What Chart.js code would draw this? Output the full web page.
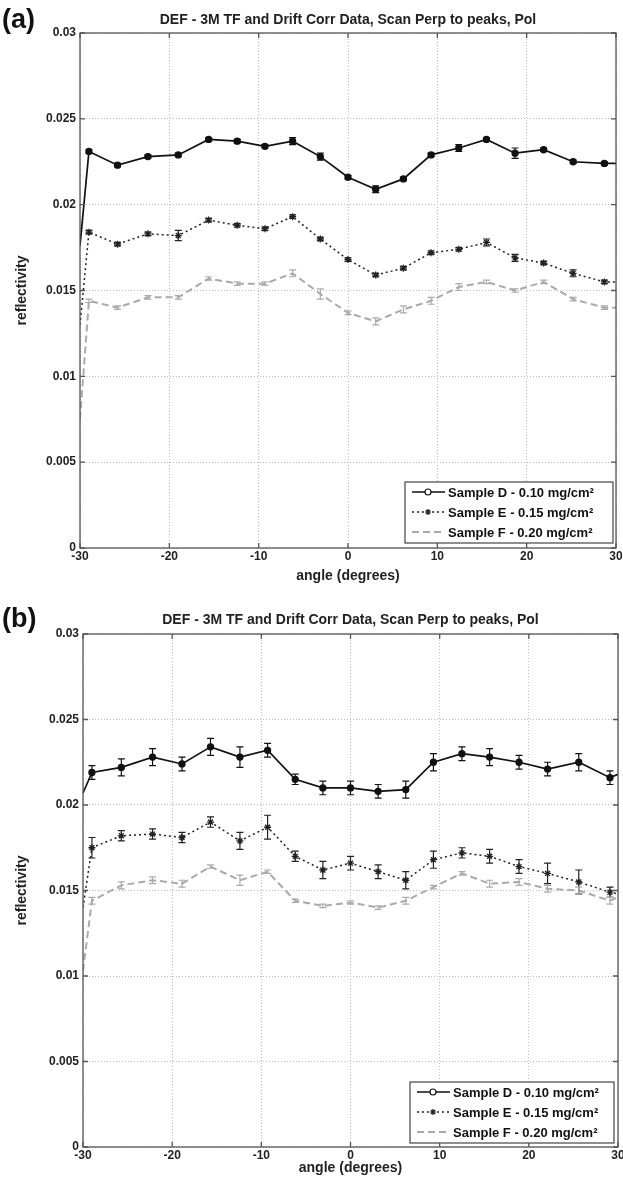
<!DOCTYPE html>
<html>
<head>
<meta charset="utf-8">
<script src="https://cdn.jsdelivr.net/npm/chart.js@4.4.1/dist/chart.umd.min.js"></script>
<style>
  body { margin: 0; background: #fff; width: 623px; height: 1184px; overflow: hidden; }
  .panel { position: absolute; left: 0; width: 623px; height: 592px; }
</style>
</head>
<body>
<div class="panel" style="top:0"><canvas id="graficoA" width="623" height="592"></canvas></div>
<div class="panel" style="top:592px"><canvas id="graficoB" width="623" height="592"></canvas></div>
<script>
// ---- datos ----
const titulo = 'DEF - 3M TF and Drift Corr Data, Scan Perp to peaks, Pol';
const etiquetas = ['Sample D - 0.10 mg/cm²', 'Sample E - 0.15 mg/cm²', 'Sample F - 0.20 mg/cm²'];
const xTicks = [-30, -20, -10, 0, 10, 20, 30];
const xTickLabels = ['-30', '-20', '-10', '0', '10', '20', '30'];
const yTicks = [0, 0.005, 0.01, 0.015, 0.02, 0.025, 0.03];
const yTickLabels = ['0', '0.005', '0.01', '0.015', '0.02', '0.025', '0.03'];

// panel (a)
const anguloA = [-30, -29, -25.8, -22.4, -19, -15.6, -12.4, -9.3, -6.2, -3.1, 0, 3.1, 6.2, 9.3, 12.4, 15.5, 18.7, 21.9, 25.2, 28.7, 30];
const muestraDA = [0.0176, 0.0231, 0.0223, 0.0228, 0.0229, 0.0238, 0.0237, 0.0234, 0.0237, 0.0228, 0.0216, 0.0209, 0.0215, 0.0229, 0.0233, 0.0238, 0.0230, 0.0232, 0.0225, 0.0224, 0.0224];
const muestraEA = [0.0130, 0.0184, 0.0177, 0.0183, 0.0182, 0.0191, 0.0188, 0.0186, 0.0193, 0.0180, 0.0168, 0.0159, 0.0163, 0.0172, 0.0174, 0.0178, 0.0169, 0.0166, 0.0160, 0.0155, 0.0155];
const muestraFA = [0.0075, 0.0144, 0.0140, 0.0146, 0.0146, 0.0157, 0.0154, 0.0154, 0.0160, 0.0148, 0.0137, 0.0132, 0.0139, 0.0144, 0.0152, 0.0155, 0.0150, 0.0155, 0.0145, 0.0140, 0.0140];
const errorDA = [null, 0.0001, 0.0001, 0.0001, 0.0001, 0.0001, 0.0001, 0.0001, 0.0002, 0.0002, 0.0001, 0.0002, 0.0001, 0.0001, 0.0002, 0.0001, 0.0003, 0.0001, 0.0001, 0.0001, null];
const errorEA = [null, 0.0001, 0.0001, 0.0001, 0.0003, 0.0001, 0.0001, 0.0001, 0.0001, 0.0001, 0.0001, 0.0001, 0.0001, 0.0001, 0.0001, 0.0002, 0.0002, 0.0001, 0.0002, 0.0001, null];
const errorFA = [null, 0.0001, 0.0001, 0.0001, 0.0001, 0.0001, 0.0001, 0.0001, 0.0002, 0.0003, 0.0001, 0.0002, 0.0002, 0.0002, 0.0002, 0.0001, 0.0001, 0.0001, 0.0001, 0.0001, null];

// panel (b)
const anguloB = [-30, -29, -25.7, -22.2, -18.9, -15.7, -12.4, -9.3, -6.2, -3.1, 0, 3.1, 6.2, 9.3, 12.5, 15.6, 18.9, 22.1, 25.6, 29.1, 30];
const muestraDB = [0.0207, 0.0219, 0.0222, 0.0228, 0.0224, 0.0234, 0.0228, 0.0232, 0.0215, 0.0210, 0.0210, 0.0208, 0.0209, 0.0225, 0.0230, 0.0228, 0.0225, 0.0221, 0.0225, 0.0216, 0.0218];
const muestraEB = [0.0140, 0.0175, 0.0182, 0.0183, 0.0181, 0.0190, 0.0179, 0.0187, 0.0170, 0.0162, 0.0166, 0.0161, 0.0156, 0.0168, 0.0172, 0.0170, 0.0164, 0.0160, 0.0155, 0.0149, 0.0148];
const muestraFB = [0.0103, 0.0144, 0.0153, 0.0156, 0.0154, 0.0164, 0.0156, 0.0161, 0.0144, 0.0141, 0.0143, 0.0140, 0.0144, 0.0152, 0.0160, 0.0154, 0.0155, 0.0151, 0.0150, 0.0144, 0.0146];
const errorDB = [null, 0.0004, 0.0005, 0.0005, 0.0004, 0.0005, 0.0006, 0.0004, 0.0003, 0.0004, 0.0004, 0.0004, 0.0005, 0.0005, 0.0004, 0.0005, 0.0004, 0.0004, 0.0005, 0.0004, null];
const errorEB = [null, 0.0006, 0.0003, 0.0003, 0.0003, 0.0003, 0.0005, 0.0007, 0.0003, 0.0005, 0.0004, 0.0004, 0.0005, 0.0005, 0.0003, 0.0004, 0.0004, 0.0006, 0.0007, 0.0003, null];
const errorFB = [null, 0.0002, 0.0002, 0.0002, 0.0002, 0.0001, 0.0003, 0.0001, 0.0001, 0.0001, 0.0001, 0.0001, 0.0002, 0.0001, 0.0001, 0.0002, 0.0002, 0.0002, 0.0002, 0.0002, null];

// ---- estilos ----
const fuente = '"Liberation Sans", Arial, sans-serif';
Chart.defaults.font.family = fuente;
const estilos = [
  { color: '#111', dash: [], ancho: 1.7, punto: 'circle', radio: 3 },
  { color: '#222', dash: [2, 3], ancho: 1.5, punto: 'star', radio: 3.5 },
  { color: '#aaa', dash: [7, 4], ancho: 2, punto: false, radio: 0 }
];

function puntos(xs, ys) {
  return xs.map((x, i) => ({ x: x, y: ys[i] }));
}

// barras de error dibujadas con la escala y del grafico
const barrasError = {
  id: 'barrasError',
  afterDatasetsDraw(chart) {
    const ctx = chart.ctx;
    const escalaY = chart.scales.y;
    chart.data.datasets.forEach((ds, i) => {
      const meta = chart.getDatasetMeta(i);
      ctx.save();
      ctx.strokeStyle = ds.borderColor;
      ctx.lineWidth = 1.2;
      ctx.setLineDash([]);
      ctx.beginPath();
      ds.errores.forEach((e, j) => {
        if (e == null) return;
        const px = meta.data[j].x;
        const v = ds.data[j].y;
        const y1 = escalaY.getPixelForValue(v - e);
        const y2 = escalaY.getPixelForValue(v + e);
        ctx.moveTo(px, y1); ctx.lineTo(px, y2);
        ctx.moveTo(px - 3.5, y1); ctx.lineTo(px + 3.5, y1);
        ctx.moveTo(px - 3.5, y2); ctx.lineTo(px + 3.5, y2);
      });
      ctx.stroke();
      ctx.restore();
    });
  }
};

// caja de ejes estilo matlab con marcas hacia dentro
const marco = {
  id: 'marco',
  afterDraw(chart) {
    const { ctx, chartArea: a, scales } = chart;
    ctx.save();
    ctx.strokeStyle = '#555';
    ctx.lineWidth = 1.3;
    ctx.setLineDash([]);
    ctx.strokeRect(a.left, a.top, a.right - a.left, a.bottom - a.top);
    ctx.beginPath();
    xTicks.forEach(t => {
      const px = scales.x.getPixelForValue(t);
      ctx.moveTo(px, a.bottom); ctx.lineTo(px, a.bottom - 5);
      ctx.moveTo(px, a.top); ctx.lineTo(px, a.top + 5);
    });
    yTicks.forEach(t => {
      const py = scales.y.getPixelForValue(t);
      ctx.moveTo(a.left, py); ctx.lineTo(a.left + 5, py);
      ctx.moveTo(a.right, py); ctx.lineTo(a.right - 5, py);
    });
    ctx.stroke();
    ctx.restore();
  }
};

const leyenda = {
  id: 'leyenda',
  afterDraw(chart, args, o) {
    const { ctx, chartArea: a } = chart;
    const der = a.right - o.margenDer;
    const inf = a.bottom - o.margenInf;
    const izq = der - o.ancho;
    const sup = inf - o.alto;
    ctx.save();
    ctx.fillStyle = '#fff';
    ctx.fillRect(izq, sup, o.ancho, o.alto);
    ctx.strokeStyle = '#444';
    ctx.lineWidth = 1.2;
    ctx.strokeRect(izq, sup, o.ancho, o.alto);
    chart.data.datasets.forEach((ds, i) => {
      const yc = sup + 10 + i * 20;
      ctx.strokeStyle = ds.borderColor;
      ctx.lineWidth = ds.borderWidth;
      ctx.setLineDash(ds.borderDash);
      ctx.beginPath();
      ctx.moveTo(izq + 7, yc); ctx.lineTo(izq + 40, yc);
      ctx.stroke();
      ctx.setLineDash([]);
      if (ds.pointStyle) {
        ctx.fillStyle = '#fff';
        ctx.lineWidth = 1.2;
        Chart.helpers.drawPoint(ctx, { pointStyle: ds.pointStyle, radius: 3, borderWidth: 1.2, rotation: 0 }, izq + 23, yc);
      }
      ctx.fillStyle = '#111';
      ctx.font = 'bold 13px ' + fuente;
      ctx.textBaseline = 'middle';
      ctx.fillText(ds.label, izq + 43, yc + 1);
    });
    ctx.restore();
  }
};

const letraPanel = {
  id: 'letraPanel',
  afterDraw(chart, args, o) {
    const ctx = chart.ctx;
    ctx.save();
    ctx.fillStyle = '#111';
    ctx.font = 'bold 27px ' + fuente;
    ctx.textBaseline = 'middle';
    ctx.fillText(o.texto, 2, o.y);
    ctx.restore();
  }
};

function crearGrafico(id, letra, xs, series, errores, geo) {
  const datasets = series.map((ys, i) => ({
    label: etiquetas[i],
    data: puntos(xs, ys),
    errores: errores[i],
    borderColor: estilos[i].color,
    backgroundColor: estilos[i].color,
    borderWidth: estilos[i].ancho,
    borderDash: estilos[i].dash,
    pointStyle: estilos[i].punto,
    pointRadius: xs.map((x, j) => (j === 0 || j === xs.length - 1) ? 0 : estilos[i].radio),
    pointBorderWidth: 1.3,
    tension: 0,
    fill: false
  }));

  return new Chart(document.getElementById(id), {
    type: 'line',
    data: { datasets: datasets },
    options: {
      responsive: false,
      animation: false,
      devicePixelRatio: 1,
      layout: { padding: { left: 0, right: geo.derecha, top: 0, bottom: 0 } },
      plugins: {
        legend: { display: false },
        tooltip: { enabled: false },
        title: {
          display: true, text: titulo, color: '#222', fullSize: false,
          font: { size: 14, weight: 'bold' },
          padding: { top: geo.tituloArriba, bottom: geo.tituloAbajo }
        },
        leyenda: { margenDer: geo.leyDer, margenInf: geo.leyInf, ancho: geo.leyAncho, alto: 61 },
        letraPanel: { texto: letra, y: geo.letraY }
      },
      scales: {
        x: {
          type: 'linear', min: -30, max: 30,
          afterBuildTicks: s => { s.ticks = xTicks.map(v => ({ value: v })); },
          afterFit: s => { s.height = geo.altoX; s.paddingLeft = 0; s.paddingRight = 0; },
          ticks: { callback: (v, i) => xTickLabels[i], color: '#222', font: { size: 12, weight: 'bold' }, padding: 1, maxRotation: 0, autoSkip: false },
          grid: { color: '#bdbdbd', lineWidth: 1, drawTicks: false },
          border: { display: false, dash: [1, 2] },
          title: { display: true, text: 'angle (degrees)', color: '#222', font: { size: 14, weight: 'bold' }, padding: { top: 0, bottom: 7.6 } }
        },
        y: {
          min: 0, max: 0.03,
          afterBuildTicks: s => { s.ticks = yTicks.map(v => ({ value: v })); },
          afterFit: s => { s.width = geo.anchoY; s.paddingTop = 0; s.paddingBottom = 0; },
          ticks: { callback: (v, i) => yTickLabels[i], color: '#222', font: { size: 12, weight: 'bold' }, padding: 4 },
          grid: { color: '#bdbdbd', lineWidth: 1, drawTicks: false },
          border: { display: false, dash: [1, 2] },
          title: { display: true, text: 'reflectivity', color: '#222', font: { size: 14, weight: 'bold' }, padding: { top: 13.6, bottom: 0 } }
        }
      }
    },
    plugins: [barrasError, marco, leyenda, letraPanel]
  });
}

crearGrafico('graficoA', '(a)', anguloA,
  [muestraDA, muestraEA, muestraFA], [errorDA, errorEA, errorFA],
  { derecha: 7, tituloArriba: 12, tituloAbajo: 4.2, altoX: 44, anchoY: 80, leyDer: 3, leyInf: 5, leyAncho: 208, letraY: 21 });

crearGrafico('graficoB', '(b)', anguloB,
  [muestraDB, muestraEB, muestraFB], [errorDB, errorEB, errorFB],
  { derecha: 5, tituloArriba: 19.6, tituloAbajo: 5.6, altoX: 37, anchoY: 83, leyDer: 4, leyInf: 4, leyAncho: 204, letraY: 28 });
</script>
</body>
</html>
